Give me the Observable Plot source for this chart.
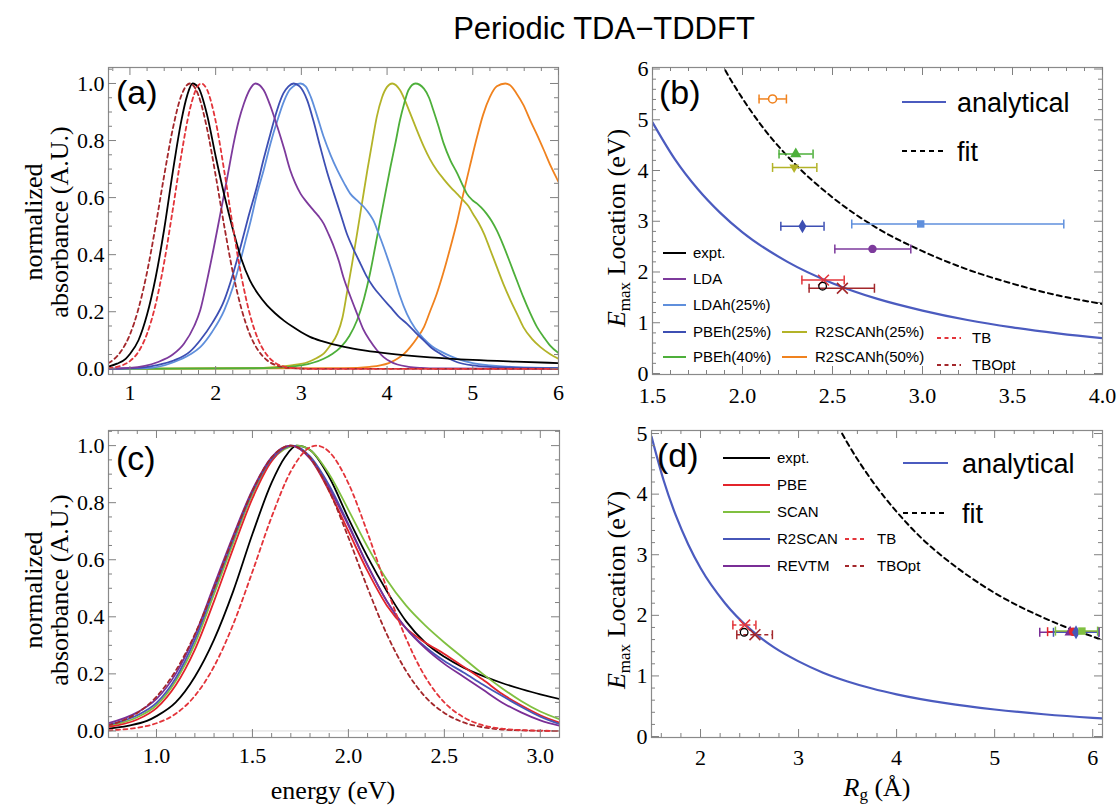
<!DOCTYPE html>
<html><head><meta charset="utf-8">
<script src="https://cdn.jsdelivr.net/npm/d3@7"></script>
<script src="https://cdn.jsdelivr.net/npm/@observablehq/plot@0.6"></script>
<style>
body{margin:0;background:#fff;}
#page{position:relative;width:1119px;height:807px;overflow:hidden;background:#fff;}
#page svg{position:absolute;max-width:none;}
</style></head><body><div id="page"></div>
<script>
// ---------------- tick labels ----------------
const energyTicksA = [1, 2, 3, 4, 5, 6];
const absTicks = [0, 0.2, 0.4, 0.6, 0.8, 1.0];
const energyTicksC = [1.0, 1.5, 2.0, 2.5, 3.0];
const rgTicksB = [1.5, 2.0, 2.5, 3.0, 3.5, 4.0];
const emaxTicksB = [0, 1, 2, 3, 4, 5, 6];
const rgTicksD = [2, 3, 4, 5, 6];
const emaxTicksD = [0, 1, 2, 3, 4, 5];

// ---------------- spectra (energy eV, normalized absorbance) ----------------
const expt = [[0.75,0.008],[0.85,0.018],[0.95,0.035],[1.0,0.052],[1.1,0.10],[1.2,0.19],[1.3,0.32],[1.4,0.49],[1.5,0.69],[1.6,0.87],[1.67,0.96],[1.73,1.0],[1.8,0.985],[1.9,0.89],[2.0,0.745],[2.1,0.61],[2.2,0.49],[2.3,0.385],[2.4,0.31],[2.5,0.26],[2.6,0.222],[2.7,0.193],[2.8,0.168],[2.9,0.147],[3.0,0.128],[3.1,0.112],[3.25,0.096],[3.5,0.077],[3.75,0.064],[4.0,0.054],[4.5,0.04],[5.0,0.031],[5.5,0.025],[6.0,0.02]];
const tbOpt = [[0.75,0.020],[0.8,0.030],[0.9,0.063],[1.0,0.120],[1.1,0.211],[1.2,0.339],[1.3,0.501],[1.4,0.678],[1.5,0.841],[1.6,0.958],[1.7,1.0],[1.8,0.958],[1.9,0.841],[2.0,0.678],[2.1,0.501],[2.2,0.339],[2.3,0.211],[2.4,0.120],[2.5,0.063],[2.6,0.030],[2.7,0.013],[2.8,0.005],[2.9,0.002],[3.1,0.0],[6.0,0.0]];
const tb = [[0.75,0.002],[0.8,0.004],[0.9,0.011],[1.0,0.027],[1.1,0.060],[1.2,0.123],[1.3,0.226],[1.4,0.374],[1.5,0.558],[1.6,0.750],[1.7,0.910],[1.8,0.994],[1.835,1.0],[1.9,0.978],[2.0,0.868],[2.1,0.694],[2.2,0.500],[2.3,0.325],[2.4,0.190],[2.5,0.100],[2.6,0.048],[2.7,0.020],[2.8,0.008],[2.9,0.003],[3.0,0.001],[3.1,0.0],[6.0,0.0]];
const lda = [[0.75,0],[1.0,0.003],[1.32,0.023],[1.5,0.05],[1.63,0.088],[1.75,0.15],[1.82,0.205],[1.9,0.31],[1.98,0.427],[2.04,0.52],[2.10,0.614],[2.16,0.71],[2.21,0.79],[2.27,0.87],[2.33,0.93],[2.40,0.98],[2.465,1.0],[2.56,0.977],[2.64,0.92],[2.72,0.848],[2.80,0.77],[2.87,0.696],[2.93,0.65],[2.99,0.614],[3.06,0.585],[3.14,0.556],[3.20,0.535],[3.26,0.509],[3.32,0.47],[3.38,0.427],[3.44,0.375],[3.49,0.322],[3.57,0.255],[3.65,0.193],[3.72,0.14],[3.80,0.099],[3.88,0.066],[3.96,0.041],[4.04,0.025],[4.12,0.015],[4.25,0.007],[4.4,0.003],[4.6,0.001],[6.0,0]];
const ldah25 = [[0.75,0],[1.2,0.002],[1.51,0.023],[1.7,0.05],[1.82,0.076],[1.96,0.13],[2.10,0.205],[2.2,0.285],[2.29,0.38],[2.35,0.45],[2.41,0.52],[2.48,0.61],[2.56,0.696],[2.64,0.79],[2.72,0.87],[2.80,0.94],[2.87,0.98],[2.99,1.0],[3.05,0.99],[3.11,0.953],[3.18,0.89],[3.26,0.813],[3.34,0.75],[3.42,0.696],[3.50,0.65],[3.57,0.614],[3.65,0.59],[3.73,0.567],[3.80,0.54],[3.84,0.52],[3.90,0.475],[3.96,0.427],[4.02,0.375],[4.08,0.322],[4.15,0.255],[4.23,0.193],[4.33,0.14],[4.43,0.105],[4.52,0.08],[4.62,0.062],[4.72,0.047],[4.82,0.035],[5.0,0.02],[5.2,0.012],[5.5,0.006],[6.0,0.003]];
const pbeh25 = [[0.75,0],[1.1,0.003],[1.3,0.012],[1.51,0.029],[1.7,0.06],[1.82,0.10],[1.96,0.16],[2.10,0.24],[2.2,0.33],[2.29,0.427],[2.38,0.53],[2.48,0.637],[2.56,0.735],[2.64,0.825],[2.72,0.91],[2.79,0.965],[2.85,0.99],[2.91,1.0],[2.98,0.99],[3.07,0.94],[3.14,0.87],[3.22,0.778],[3.30,0.69],[3.38,0.614],[3.46,0.54],[3.53,0.474],[3.61,0.418],[3.69,0.368],[3.76,0.325],[3.84,0.287],[3.94,0.25],[4.04,0.216],[4.13,0.185],[4.23,0.158],[4.33,0.128],[4.43,0.099],[4.52,0.073],[4.62,0.053],[4.72,0.036],[4.82,0.023],[5.0,0.012],[5.2,0.007],[5.5,0.004],[6.0,0.002]];
const pbeh40 = [[0.75,0],[2.6,0.002],[3.0,0.012],[3.26,0.035],[3.36,0.052],[3.46,0.076],[3.56,0.115],[3.65,0.17],[3.73,0.245],[3.80,0.333],[3.86,0.425],[3.92,0.52],[3.98,0.615],[4.04,0.708],[4.10,0.795],[4.15,0.871],[4.20,0.93],[4.25,0.977],[4.33,1.0],[4.43,0.982],[4.49,0.95],[4.54,0.906],[4.60,0.85],[4.66,0.79],[4.74,0.73],[4.82,0.684],[4.88,0.645],[4.93,0.614],[5.0,0.59],[5.05,0.579],[5.10,0.565],[5.16,0.544],[5.22,0.518],[5.28,0.485],[5.36,0.43],[5.44,0.368],[5.52,0.305],[5.59,0.251],[5.67,0.195],[5.75,0.146],[5.83,0.11],[5.90,0.082],[6.0,0.055]];
const r2scanh25 = [[0.75,0],[2.4,0.002],[2.68,0.006],[2.9,0.013],[3.07,0.023],[3.18,0.038],[3.26,0.053],[3.34,0.083],[3.42,0.123],[3.48,0.18],[3.53,0.263],[3.59,0.365],[3.65,0.474],[3.71,0.585],[3.77,0.696],[3.83,0.80],[3.88,0.883],[3.94,0.95],[4.00,0.988],[4.06,1.0],[4.15,0.977],[4.21,0.94],[4.27,0.895],[4.35,0.835],[4.43,0.778],[4.50,0.735],[4.58,0.696],[4.66,0.665],[4.74,0.637],[4.82,0.612],[4.89,0.59],[4.95,0.57],[5.0,0.544],[5.07,0.51],[5.13,0.474],[5.20,0.42],[5.28,0.357],[5.36,0.295],[5.44,0.24],[5.52,0.19],[5.59,0.146],[5.69,0.105],[5.79,0.076],[5.90,0.052],[6.0,0.035]];
const r2scanh50 = [[0.75,0],[3.5,0.002],[3.8,0.007],[3.92,0.012],[4.02,0.02],[4.12,0.035],[4.20,0.053],[4.27,0.076],[4.35,0.108],[4.43,0.146],[4.50,0.2],[4.58,0.263],[4.66,0.34],[4.74,0.427],[4.82,0.52],[4.89,0.614],[4.97,0.715],[5.05,0.813],[5.12,0.89],[5.20,0.953],[5.28,0.99],[5.38,1.0],[5.45,0.99],[5.51,0.965],[5.59,0.925],[5.67,0.871],[5.75,0.82],[5.83,0.766],[5.91,0.71],[6.0,0.655]];
const pbe = [[0.75,0.014],[0.9,0.04],[1.0,0.08],[1.1,0.16],[1.2,0.285],[1.3,0.455],[1.4,0.64],[1.5,0.815],[1.6,0.945],[1.70,1.0],[1.8,0.955],[1.9,0.84],[2.0,0.70],[2.1,0.56],[2.2,0.44],[2.3,0.36],[2.4,0.31],[2.5,0.27],[2.6,0.225],[2.7,0.18],[2.8,0.13],[2.9,0.09],[3.0,0.055],[3.1,0.029]];
const scan = [[0.75,0.018],[0.9,0.048],[1.0,0.09],[1.1,0.175],[1.2,0.305],[1.3,0.48],[1.4,0.66],[1.5,0.83],[1.6,0.948],[1.73,1.0],[1.8,0.985],[1.9,0.9],[2.0,0.775],[2.1,0.645],[2.2,0.53],[2.3,0.44],[2.4,0.37],[2.5,0.31],[2.6,0.255],[2.7,0.2],[2.8,0.15],[2.9,0.105],[3.0,0.068],[3.1,0.041]];
const r2scan = [[0.75,0.022],[0.9,0.055],[1.0,0.098],[1.1,0.185],[1.2,0.32],[1.3,0.495],[1.4,0.672],[1.5,0.838],[1.6,0.953],[1.71,1.0],[1.8,0.962],[1.9,0.86],[2.0,0.725],[2.1,0.58],[2.2,0.455],[2.3,0.36],[2.4,0.295],[2.5,0.245],[2.6,0.205],[2.7,0.163],[2.8,0.123],[2.9,0.085],[3.0,0.05],[3.1,0.024]];
const revtm = [[0.75,0.027],[0.9,0.065],[1.0,0.112],[1.1,0.2],[1.2,0.335],[1.3,0.51],[1.4,0.685],[1.5,0.845],[1.6,0.96],[1.70,1.0],[1.8,0.955],[1.9,0.85],[2.0,0.72],[2.1,0.58],[2.2,0.455],[2.3,0.36],[2.4,0.29],[2.5,0.235],[2.6,0.19],[2.7,0.145],[2.8,0.10],[2.9,0.065],[3.0,0.037],[3.1,0.018]];

// ---------------- Emax vs Rg ----------------
const analytical = [[1.5,4.95],[1.625,4.22],[1.75,3.64],[1.875,3.17],[2.0,2.78],[2.25,2.20],[2.5,1.78],[2.75,1.47],[3.0,1.24],[3.25,1.054],[3.5,0.909],[3.75,0.792],[4.0,0.696],[4.5,0.55],[5.0,0.446],[5.5,0.368],[6.0,0.309],[6.1,0.299]];
const fitB = [[1.88,6.13],[1.9,6.0],[2.0,5.42],[2.1,4.91],[2.25,4.28],[2.5,3.47],[2.75,2.86],[3.0,2.41],[3.25,2.05],[3.5,1.77],[3.75,1.54],[4.0,1.37]];
const fitD = [[3.4,5.13],[3.5,4.84],[3.75,4.22],[4.0,3.71],[4.25,3.28],[4.5,2.93],[4.75,2.63],[5.0,2.37],[5.25,2.15],[5.5,1.96],[5.75,1.79],[6.0,1.65],[6.1,1.59]];
// name, Rg, Emax, Rg low, Rg high
const hybridPts = [
  ["R2SCANh(50%)", 2.167, 5.41, 2.092, 2.244],
  ["PBEh(40%)", 2.296, 4.325, 2.203, 2.392],
  ["R2SCANh(25%)", 2.287, 4.06, 2.167, 2.413],
  ["PBEh(25%)", 2.333, 2.90, 2.213, 2.453],
  ["LDAh(25%)", 2.99, 2.947, 2.607, 3.785],
  ["LDA", 2.722, 2.455, 2.513, 2.935]
];
const tbPts = [
  ["TB", 2.45, 1.84, 2.33, 2.565],
  ["TBOpt", 2.555, 1.68, 2.37, 2.733]
];
const exptPt = [["expt.", 2.445, 1.72]];
const ggaPts = [
  ["REVTM", 5.77, 1.72, 5.46, 6.065],
  ["PBE", 5.80, 1.73, 5.54, 6.06],
  ["R2SCAN", 5.83, 1.72, 5.60, 6.06],
  ["SCAN", 5.89, 1.74, 5.62, 6.05]
];

// ---------------- styling ----------------
const col = {
  "expt.": "#000000", "LDA": "#7d3a9c", "LDAh(25%)": "#5f8fdc", "PBEh(25%)": "#3d4fb3",
  "PBEh(40%)": "#4daf3a", "R2SCANh(25%)": "#b3b328", "R2SCANh(50%)": "#f0821e",
  "TB": "#e3343a", "TBOpt": "#a3272b", "analytical": "#4b5bbf",
  "PBE": "#e3242b", "SCAN": "#80c040", "R2SCAN": "#4656b8", "REVTM": "#7a2e96"
};
const serif = "'Liberation Serif', 'Times New Roman', serif";
const sans = "'Liberation Sans', Arial, Helvetica, sans-serif";
const page = document.getElementById("page");

const capSym = {draw(ctx, size) { const h = Math.sqrt(size / Math.PI); ctx.moveTo(0, -h); ctx.lineTo(0, h); }};
const invTri = {draw(ctx, size) { const r = Math.sqrt(size / Math.PI); ctx.moveTo(-r * 1.15, -r * 0.7); ctx.lineTo(r * 1.15, -r * 0.7); ctx.lineTo(0, r * 1.3); ctx.closePath(); }};
const symOf = {"R2SCANh(50%)": "circle", "PBEh(40%)": "triangle", "R2SCANh(25%)": invTri, "PBEh(25%)": "diamond",
  "LDAh(25%)": "square", "LDA": "circle", "REVTM": "triangle", "PBE": "circle", "R2SCAN": "diamond", "SCAN": "square"};

function range(a, b, s) { const out = []; for (let v = a; v <= b + 1e-9; v += s) out.push(Math.round(v * 1000) / 1000); return out; }
function minorOf(a, b, s, major) { return range(a, b, s).filter(v => !major.some(m => Math.abs(m - v) < 1e-6)); }

function ticks(fr, xMajor, xMinor, yMajor, yMinor) {
  const W = fr.r - fr.l, H = fr.b - fr.t;
  const st = {stroke: "#808080", strokeWidth: 1};
  return [
    Plot.tickX(xMajor, {x: d => d, insetTop: H - 8, ...st}),
    Plot.tickX(xMajor, {x: d => d, insetBottom: H - 8, ...st}),
    Plot.tickX(xMinor, {x: d => d, insetTop: H - 4, ...st}),
    Plot.tickX(xMinor, {x: d => d, insetBottom: H - 4, ...st}),
    Plot.tickY(yMajor, {y: d => d, insetRight: W - 8, ...st}),
    Plot.tickY(yMajor, {y: d => d, insetLeft: W - 8, ...st}),
    Plot.tickY(yMinor, {y: d => d, insetRight: W - 4, ...st}),
    Plot.tickY(yMinor, {y: d => d, insetLeft: W - 4, ...st})
  ];
}

function panel(o) {
  const {fr, box} = o;
  const p = Plot.plot({
    width: box.r - box.l, height: box.b - box.t,
    marginLeft: fr.l - box.l, marginRight: box.r - fr.r, marginTop: fr.t - box.t, marginBottom: box.b - fr.b,
    x: {domain: o.xDomain, axis: null},
    y: {domain: o.yDomain, axis: null},
    style: {fontFamily: serif, fontSize: "22px", background: "transparent", color: "#000", overflow: "visible"},
    marks: [
      ...o.marks,
      Plot.frame({stroke: "#8a8a8a", strokeWidth: 1.2}),
      ...ticks(fr, o.xTicks, o.xMinor, o.yTicks, o.yMinor),
      Plot.axisX({ticks: o.xTicks, tickSize: 0, tickPadding: o.xPad, tickFormat: o.xFmt, label: null, anchor: "bottom", fill: "#000"}),
      Plot.axisY({ticks: o.yTicks, tickSize: 0, tickPadding: 4, tickFormat: o.yFmt, label: null, anchor: "left", fill: "#000"})
    ]
  });
  p.style.left = box.l + "px"; p.style.top = box.t + "px";
  page.appendChild(p);
}

const line = (data, stroke, extra = {}) => Plot.line(data, {x: d => d[0], y: d => d[1], stroke, strokeWidth: 1.8, curve: "monotone-x", clip: true, ...extra});
const dashed = {strokeDasharray: "4,3.5"};
const f1 = d => d.toFixed(1), f0 = d => d.toFixed(0);

// (a)
panel({
  fr: {l: 108, r: 558, t: 67, b: 374}, box: {l: 60, r: 590, t: 50, b: 410},
  xDomain: [0.75, 6.0], yDomain: [-0.02, 1.056],
  xTicks: energyTicksA, xMinor: minorOf(0.8, 6.0, 0.2, energyTicksA),
  yTicks: absTicks, yMinor: minorOf(0, 1.05, 0.05, absTicks), xFmt: f0, yFmt: f1, xPad: 10,
  marks: [
    Plot.ruleY([0], {stroke: "#d8d8d8"}),
    line(r2scanh50, col["R2SCANh(50%)"]), line(r2scanh25, col["R2SCANh(25%)"]), line(pbeh40, col["PBEh(40%)"]),
    line(ldah25, col["LDAh(25%)"]), line(pbeh25, col["PBEh(25%)"]), line(lda, col["LDA"]),
    line(expt, col["expt."]), line(tbOpt, col["TBOpt"], dashed), line(tb, col["TB"], dashed)
  ]
});

// (c)
panel({
  fr: {l: 108, r: 559, t: 430, b: 737}, box: {l: 60, r: 590, t: 415, b: 775},
  xDomain: [0.75, 3.1], yDomain: [-0.023, 1.053],
  xTicks: energyTicksC, xMinor: minorOf(0.8, 3.1, 0.1, energyTicksC),
  yTicks: absTicks, yMinor: minorOf(0, 1.05, 0.05, absTicks), xFmt: f1, yFmt: f1, xPad: 10,
  marks: [
    Plot.ruleY([0], {stroke: "#d8d8d8"}),
    line(expt, col["expt."]), line(scan, col["SCAN"]), line(pbe, col["PBE"]), line(r2scan, col["R2SCAN"]),
    line(revtm, col["REVTM"]), line(tbOpt, col["TBOpt"], dashed), line(tb, col["TB"], dashed)
  ]
});

function pointMarks(pts, barDash) {
  const c = d => col[d[0]];
  return [
    Plot.ruleY(pts, {y: d => d[2], x1: d => d[3], x2: d => d[4], stroke: c, strokeWidth: 1.5, strokeDasharray: barDash}),
    Plot.dot(pts, {x: d => d[3], y: d => d[2], symbol: capSym, r: 4.5, stroke: c, fill: "none", strokeWidth: 1.5}),
    Plot.dot(pts, {x: d => d[4], y: d => d[2], symbol: capSym, r: 4.5, stroke: c, fill: "none", strokeWidth: 1.5})
  ];
}

// (b)
panel({
  fr: {l: 652, r: 1102, t: 67, b: 374}, box: {l: 600, r: 1115, t: 50, b: 410},
  xDomain: [1.5, 4.0], yDomain: [-0.02, 6.03],
  xTicks: rgTicksB, xMinor: minorOf(1.5, 4.0, 0.1, rgTicksB),
  yTicks: emaxTicksB, yMinor: minorOf(0, 6, 0.2, emaxTicksB), xFmt: f1, yFmt: f0, xPad: 13,
  marks: [
    line(analytical, col["analytical"], {strokeWidth: 2.2}),
    line(fitB, "#000", {strokeDasharray: "5,4", strokeWidth: 2}),
    ...pointMarks(hybridPts), ...pointMarks(tbPts),
    Plot.dot(hybridPts.filter(d => d[0] !== "R2SCANh(50%)"), {x: d => d[1], y: d => d[2], symbol: d => symOf[d[0]], r: 4.2, fill: d => col[d[0]]}),
    Plot.dot(hybridPts.filter(d => d[0] === "R2SCANh(50%)"), {x: d => d[1], y: d => d[2], r: 4, stroke: d => col[d[0]], fill: "white", strokeWidth: 1.6}),
    Plot.dot(tbPts, {x: d => d[1], y: d => d[2], symbol: "times", r: 5, stroke: d => col[d[0]], strokeWidth: 1.6}),
    Plot.dot(exptPt, {x: d => d[1], y: d => d[2], r: 3.8, stroke: "#000", fill: "none", strokeWidth: 1.3})
  ]
});

// (d)
panel({
  fr: {l: 651, r: 1102, t: 430, b: 737}, box: {l: 600, r: 1115, t: 415, b: 775},
  xDomain: [1.5, 6.1], yDomain: [-0.016, 5.05],
  xTicks: rgTicksD, xMinor: minorOf(1.6, 6.0, 0.2, rgTicksD),
  yTicks: emaxTicksD, yMinor: minorOf(0, 5, 0.2, emaxTicksD), xFmt: f0, yFmt: f0, xPad: 12,
  marks: [
    line(analytical, col["analytical"], {strokeWidth: 2.2}),
    line(fitD, "#000", {strokeDasharray: "5,4", strokeWidth: 2}),
    ...pointMarks(tbPts, "4,3"), ...pointMarks(ggaPts),
    Plot.dot(ggaPts, {x: d => d[1], y: d => d[2], symbol: d => symOf[d[0]], r: 4.2, fill: d => col[d[0]]}),
    Plot.dot(tbPts, {x: d => d[1], y: d => d[2], symbol: "times", r: 5, stroke: d => col[d[0]], strokeWidth: 1.6}),
    Plot.dot(exptPt, {x: d => d[1], y: d => d[2], r: 3.8, stroke: "#000", fill: "none", strokeWidth: 1.3})
  ]
});

// ---------------- overlay: title, labels, legends ----------------
const ov = d3.select(page).append("svg").attr("width", 1119).attr("height", 807).style("left", "0px").style("top", "0px");
ov.append("text").attr("x", 604).attr("y", 39).attr("text-anchor", "middle").attr("font-family", sans).attr("font-size", 31).text("Periodic TDA\u2212TDDFT");

[["(a)", 116, 104], ["(b)", 659, 104], ["(c)", 116, 470], ["(d)", 657, 467]].forEach(([t, x, y]) =>
  ov.append("text").attr("x", x).attr("y", y).attr("font-family", sans).attr("font-size", 34).text(t));

function vtext(lines, cy) {
  lines.forEach(([t, x]) => ov.append("text").attr("transform", `translate(${x},${cy}) rotate(-90)`).attr("text-anchor", "middle")
    .attr("font-family", serif).attr("font-size", 26).text(t));
}
vtext([["normalized", 42], ["absorbance (A.U.)", 68]], 222);
vtext([["normalized", 42], ["absorbance (A.U.)", 68]], 590);

function elabel(x, cy) {
  const t = ov.append("text").attr("transform", `translate(${x},${cy}) rotate(-90)`).attr("text-anchor", "middle")
    .attr("font-family", serif).attr("font-size", 26);
  t.append("tspan").attr("font-style", "italic").text("E");
  t.append("tspan").attr("font-size", 17).attr("dy", 5).text("max");
  t.append("tspan").attr("dy", -5).text(" Location (eV)");
}
elabel(625, 228);
elabel(625, 590);

ov.append("text").attr("x", 333).attr("y", 799).attr("text-anchor", "middle").attr("font-family", serif).attr("font-size", 26).text("energy (eV)");
{
  const t = ov.append("text").attr("x", 877).attr("y", 796).attr("text-anchor", "middle").attr("font-family", serif).attr("font-size", 26);
  t.append("tspan").attr("font-style", "italic").text("R");
  t.append("tspan").attr("font-size", 17).attr("dy", 4).text("g");
  t.append("tspan").attr("dy", -4).text(" (\u00C5)");
}

function legendItem(x1, x2, y, tx, label, stroke, dash, size = 15, w = 2) {
  ov.append("line").attr("x1", x1).attr("x2", x2).attr("y1", y).attr("y2", y).attr("stroke", stroke).attr("stroke-width", w)
    .attr("stroke-dasharray", dash || null);
  ov.append("text").attr("x", tx).attr("y", y).attr("dy", "0.36em").attr("font-family", sans).attr("font-size", size).text(label);
}
// (b) legends
[["expt.", 253], ["LDA", 279], ["LDAh(25%)", 305], ["PBEh(25%)", 332], ["PBEh(40%)", 357]].forEach(([l, y]) => legendItem(663, 686, y, 693, l, col[l]));
[["R2SCANh(25%)", 332], ["R2SCANh(50%)", 357]].forEach(([l, y]) => legendItem(782, 807, y, 815, l, col[l]));
[["TB", 338], ["TBOpt", 365]].forEach(([l, y]) => legendItem(937, 961, y, 972, l, col[l], "4,3.5"));
legendItem(902, 946, 102, 957, "analytical", col["analytical"], null, 27, 2.2);
legendItem(902, 946, 151, 957, "fit", "#000", "5,4", 27, 2);
// (d) legends
[["expt.", 458], ["PBE", 485], ["SCAN", 512], ["R2SCAN", 539], ["REVTM", 566]].forEach(([l, y]) => legendItem(723, 770, y, 777, l, col[l]));
[["TB", 539], ["TBOpt", 566]].forEach(([l, y]) => legendItem(845, 867, y, 877, l, col[l], "4,3.5"));
legendItem(903, 948, 463, 962, "analytical", col["analytical"], null, 27, 2.2);
legendItem(903, 948, 513, 962, "fit", "#000", "5,4", 27, 2);
</script>
</body></html>
